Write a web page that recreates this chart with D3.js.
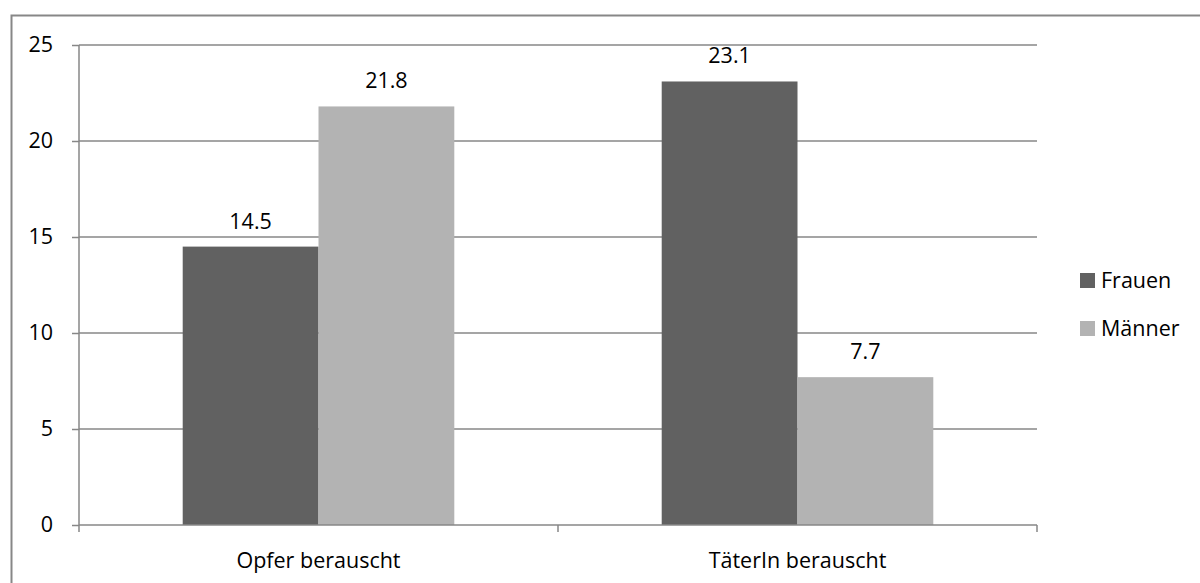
<!DOCTYPE html>
<html>
<head>
<meta charset="utf-8">
<script src="https://cdn.jsdelivr.net/npm/d3@7"></script>
<style>
  body { margin: 0; background: #fff; }
  text { font-family: "Open Sans", Lato, sans-serif; fill: #000; }
</style>
</head>
<body>
<div id="chart"></div>
<script>
// Data
const categories = ["Opfer berauscht", "TäterIn berauscht"];
const seriesNames = ["Frauen", "Männer"];
const frauen = [14.5, 23.1];
const maenner = [21.8, 7.7];
const yTicks = [0, 5, 10, 15, 20, 25];
const colors = ["#616161", "#b3b3b3"];

const width = 1200, height = 583;
const margin = { left: 79, right: 163, top: 45, bottom: 58 };
const fontSize = 21.5;

const svg = d3.select("#chart")
  .append("svg")
  .attr("width", width)
  .attr("height", height);

// outer frame
svg.append("rect")
  .attr("x", 11.5)
  .attr("y", 15.5)
  .attr("width", width + 10)
  .attr("height", height + 10)
  .attr("fill", "none")
  .attr("stroke", "#878787")
  .attr("stroke-width", 2);

const x0 = d3.scaleBand()
  .domain(categories)
  .range([margin.left, width - margin.right])
  .paddingInner(0.433)
  .paddingOuter(0.2165);

const x1 = d3.scaleBand()
  .domain(seriesNames)
  .range([0, x0.bandwidth()]);

const y = d3.scaleLinear()
  .domain([0, 25])
  .range([height - margin.bottom, margin.top]);

// gridlines
svg.append("g")
  .selectAll("line")
  .data(yTicks.filter(d => d > 0))
  .join("line")
  .attr("x1", margin.left)
  .attr("x2", width - margin.right)
  .attr("y1", d => y(d))
  .attr("y2", d => y(d))
  .attr("stroke", "#878787")
  .attr("stroke-width", 1.5);

// bars
const rows = categories.map((c, i) => ({ cat: c, vals: [frauen[i], maenner[i]] }));
const groups = svg.append("g")
  .selectAll("g")
  .data(rows)
  .join("g")
  .attr("transform", d => `translate(${x0(d.cat)},0)`);

groups.selectAll("rect")
  .data(d => d.vals.map((v, j) => ({ name: seriesNames[j], v, j })))
  .join("rect")
  .attr("x", d => x1(d.name))
  .attr("width", x1.bandwidth())
  .attr("y", d => y(d.v))
  .attr("height", d => y(0) - y(d.v))
  .attr("fill", d => colors[d.j]);

groups.selectAll("text")
  .data(d => d.vals.map((v, j) => ({ name: seriesNames[j], v, j })))
  .join("text")
  .attr("x", d => x1(d.name) + x1.bandwidth() / 2)
  .attr("y", d => y(d.v) - 18)
  .attr("text-anchor", "middle")
  .attr("font-size", fontSize)
  .text(d => d.v.toFixed(1));

// y axis
const yAxis = svg.append("g")
  .attr("transform", `translate(${margin.left},0)`)
  .call(d3.axisLeft(y).tickValues(yTicks).tickSize(7).tickPadding(19).tickFormat(d3.format("d")));
yAxis.selectAll("line, path").attr("stroke", "#878787").attr("stroke-width", 1.5);
yAxis.selectAll("text")
  .attr("font-size", fontSize)
  .attr("font-family", "'Open Sans', Lato, sans-serif")
  .attr("fill", "#000");
yAxis.select(".domain").attr("d", `M0,${y(0)}V${y(25)}`);

// x axis with boundary ticks
const xAxisG = svg.append("g");
xAxisG.append("line")
  .attr("x1", margin.left).attr("x2", width - margin.right)
  .attr("y1", y(0)).attr("y2", y(0))
  .attr("stroke", "#878787").attr("stroke-width", 1.5);
const bounds = [margin.left, (margin.left + width - margin.right) / 2, width - margin.right];
xAxisG.selectAll(".tk")
  .data(bounds)
  .join("line")
  .attr("x1", d => d).attr("x2", d => d)
  .attr("y1", y(0)).attr("y2", y(0) + 7)
  .attr("stroke", "#878787").attr("stroke-width", 1.5);
xAxisG.selectAll("text")
  .data(categories)
  .join("text")
  .attr("x", d => x0(d) + x0.bandwidth() / 2)
  .attr("y", y(0) + 43)
  .attr("text-anchor", "middle")
  .attr("font-size", fontSize)
  .text(d => d);

// legend
const legend = svg.append("g")
  .selectAll("g")
  .data(seriesNames)
  .join("g")
  .attr("transform", (d, i) => `translate(1080,${288 + i * 48})`);
legend.append("rect")
  .attr("width", 15).attr("height", 15)
  .attr("y", -15)
  .attr("fill", (d, i) => colors[i]);
legend.append("text")
  .attr("x", 21)
  .attr("y", 0)
  .attr("font-size", fontSize)
  .text(d => d);
</script>
</body>
</html>
